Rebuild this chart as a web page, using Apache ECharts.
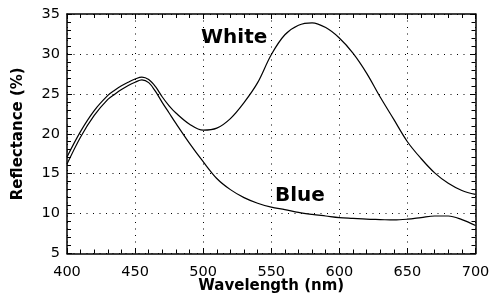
<!DOCTYPE html>
<html>
<head>
<meta charset="utf-8">
<script src="https://cdn.jsdelivr.net/npm/echarts@6/dist/echarts.min.js"></script>
<style>html,body{margin:0;padding:0;background:#fff;}#c{width:490px;height:299px;}</style>
</head>
<body>
<div id="c"></div>
<script>
var whiteWl = [400,410,420,430,435,440,445,450,455,460,465,470,475,480,490,500,510,520,530,540,550,560,570,580,590,600,610,620,630,640,650,660,670,680,690,700];
var whiteR  = [17.1,20.3,22.9,24.8,25.45,26.0,26.45,26.85,27.1,26.8,25.9,24.6,23.5,22.6,21.2,20.45,20.7,21.9,23.9,26.4,29.9,32.4,33.6,33.9,33.3,32.0,30.1,27.6,24.6,21.8,19.0,16.9,15.1,13.8,12.9,12.4];
var blueWl  = [400,410,420,430,435,440,445,450,455,460,465,470,475,480,490,500,510,520,530,540,550,560,570,580,590,600,610,620,630,640,650,660,670,680,690,700];
var blueR   = [16.2,19.6,22.3,24.3,24.95,25.55,26.05,26.45,26.75,26.4,25.3,23.9,22.6,21.3,18.8,16.5,14.4,13.0,12.0,11.3,10.8,10.5,10.15,9.9,9.7,9.5,9.4,9.3,9.25,9.2,9.3,9.5,9.7,9.7,9.25,8.5];
var xTicks = [400,450,500,550,600,650,700];
var yTicks = [5,10,15,20,25,30,35];
var labelTexts = ['White','Blue'];

function pairs(xs, ys){ return xs.map(function(x,i){ return [x, ys[i]]; }); }

var axisLineStyle = {color:'#000', width:1.5};
var tickStyle = {color:'#000', width:1};
var chart = echarts.init(document.getElementById('c'));
chart.setOption({
  animation:false,
  backgroundColor:'#fff',
  grid:{left:67, right:14.5, top:14, bottom:45.5, containLabel:false, outerBoundsMode:'none'},
  xAxis:[{
    type:'value', min:xTicks[0], max:xTicks[xTicks.length-1], interval:50, position:'bottom',
    axisLine:{show:true, onZero:false, lineStyle:axisLineStyle},
    axisTick:{show:true, inside:true, length:5, lineStyle:tickStyle},
    minorTick:{show:true, splitNumber:5, length:4, lineStyle:tickStyle},
    splitLine:{show:true, lineStyle:{color:'#000', width:1, type:[1,5.5]}},
    axisLabel:{color:'#000', fontFamily:'DejaVu Sans', fontSize:14.5, margin:11},
    name:'Wavelength (nm)', nameLocation:'middle', nameGap:25, nameMoveOverlap:false,
    nameTextStyle:{color:'#000', fontFamily:'DejaVu Sans', fontWeight:'bold', fontSize:15}
  },{
    type:'value', min:xTicks[0], max:xTicks[xTicks.length-1], interval:50, position:'top',
    axisLine:{show:true, onZero:false, lineStyle:axisLineStyle},
    axisTick:{show:true, inside:true, length:5, lineStyle:tickStyle},
    minorTick:{show:true, splitNumber:5, length:4, lineStyle:tickStyle},
    splitLine:{show:false}, axisLabel:{show:false}
  }],
  yAxis:[{
    type:'value', min:yTicks[0], max:yTicks[yTicks.length-1], interval:5, position:'left',
    axisLine:{show:true, onZero:false, lineStyle:axisLineStyle},
    axisTick:{show:true, inside:true, length:5, lineStyle:tickStyle},
    minorTick:{show:true, splitNumber:5, length:4, lineStyle:tickStyle},
    splitLine:{show:true, lineStyle:{color:'#000', width:1, type:[1,5.5]}},
    axisLabel:{color:'#000', fontFamily:'DejaVu Sans', fontSize:14.5, margin:7},
    name:'Reflectance (%)', nameLocation:'middle', nameGap:41, nameMoveOverlap:false,
    nameTextStyle:{color:'#000', fontFamily:'DejaVu Sans', fontWeight:'bold', fontSize:15}
  },{
    type:'value', min:yTicks[0], max:yTicks[yTicks.length-1], interval:5, position:'right',
    axisLine:{show:true, onZero:false, lineStyle:axisLineStyle},
    axisTick:{show:true, inside:true, length:5, lineStyle:tickStyle},
    minorTick:{show:true, splitNumber:5, length:4, lineStyle:tickStyle},
    splitLine:{show:false}, axisLabel:{show:false}
  }],
  series:[{
    name:labelTexts[0], type:'line', data:pairs(whiteWl, whiteR), smooth:0.35, showSymbol:false,
    lineStyle:{color:'#000', width:1.2}
  },{
    name:labelTexts[1], type:'line', data:pairs(blueWl, blueR), smooth:0.35, showSymbol:false,
    lineStyle:{color:'#000', width:1.2}
  }],
  graphic:[
    {type:'text', left:201, top:28, style:{text:labelTexts[0], font:'bold 20px "DejaVu Sans"', fill:'#000'}},
    {type:'text', left:275, top:186, style:{text:labelTexts[1], font:'bold 20px "DejaVu Sans"', fill:'#000'}}
  ]
});
</script>
</body>
</html>
